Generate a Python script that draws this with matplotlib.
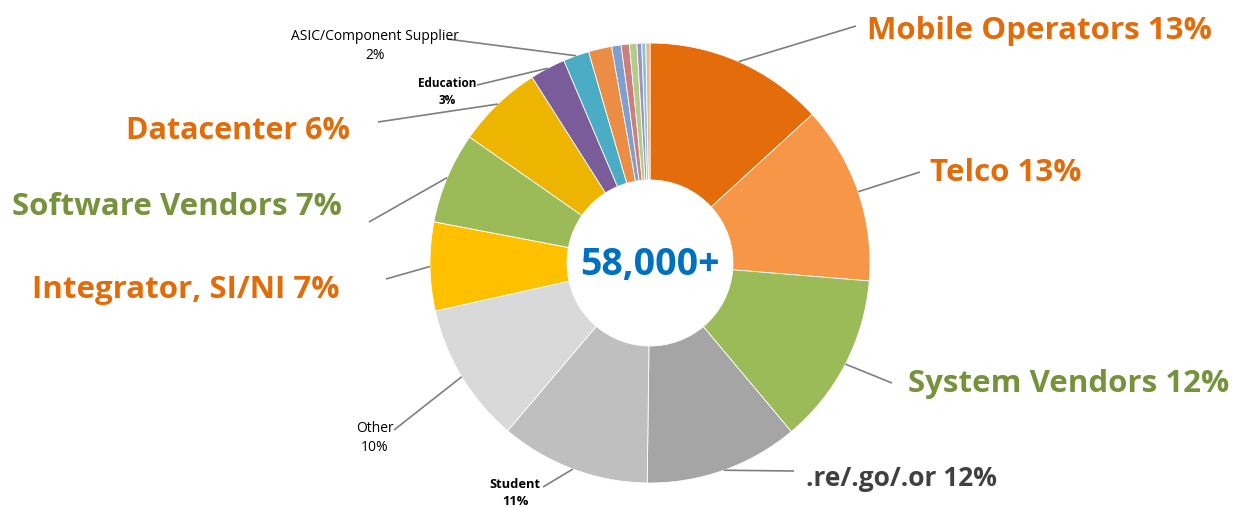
import matplotlib
matplotlib.use('Agg')
import matplotlib.pyplot as plt
import numpy as np

# canvas size in pixels
W, H = 1235, 507

# slice data, clockwise from 12 o'clock
segments = ['Mobile Operators', 'Telco', 'System Vendors', '.re/.go/.or',
            'Student', 'Other', 'Integrator, SI/NI', 'Software Vendors',
            'Datacenter', 'Education', 'ASIC/Component Supplier',
            'misc1', 'misc2', 'misc3', 'misc4', 'misc5', 'misc6', 'misc7']
shares = [13.2, 13.1, 12.6, 11.3, 11.0, 10.3, 6.5, 6.7, 6.3, 2.6, 1.9,
          1.7, 0.7, 0.6, 0.55, 0.35, 0.3, 0.3]
colors = ['#E46C0A', '#F79646', '#9BBB59', '#A5A5A5', '#BFBFBF', '#D9D9D9',
          '#FFC000', '#9BBB59', '#EDB500', '#7A5C9A', '#4BACC6',
          '#EB8D45', '#7F9FCF', '#CD7F7E', '#B3CC88', '#A092C0', '#7FC8DC', '#F9B080']
label_text = ['Mobile Operators 13%', 'Telco 13%', 'System Vendors 12%', '.re/.go/.or 12%',
              'Student\n11%', 'Other\n10%', 'Integrator, SI/NI 7%', 'Software Vendors 7%',
              'Datacenter 6%', 'Education\n3%', 'ASIC/Component Supplier\n2%']
total_label = '58,000+'

ORANGE = '#E26B0A'
GREEN = '#76923C'
DARK = '#404040'

# label layout: (x, y in px from top, ha, color, size, weight, leader end)
layout = [
    (867, 31, 'left', ORANGE, 22.5, 'bold', (856, 26)),
    (930, 173, 'left', ORANGE, 22.5, 'bold', (920, 172)),
    (908, 384, 'left', GREEN, 22.5, 'bold', (892, 383)),
    (806, 479, 'left', DARK, 19, 'bold', (794, 471)),
    (515, 493, 'center', 'black', 9.3, 'bold', (543, 487)),
    (375, 438, 'center', 'black', 10, 'normal', (394, 430)),
    (340, 290, 'right', ORANGE, 22.5, 'bold', (386, 279)),
    (342, 207, 'right', GREEN, 22.5, 'bold', (369, 222)),
    (350, 131, 'right', ORANGE, 22, 'bold', (378, 122)),
    (447, 92, 'center', 'black', 8.5, 'bold', (477, 85)),
    (375, 46, 'center', 'black', 10, 'normal', (447, 39)),
]

plt.rcParams['font.family'] = ['Open Sans', 'DejaVu Sans']

fig = plt.figure(figsize=(W / 100, H / 100), dpi=100)
ax = fig.add_axes([0, 0, 1, 1])

cx, cy, R, r_in = 650, H - 263, 220, 83
wedges, _ = ax.pie(shares, colors=colors, startangle=90, counterclock=False,
                   center=(cx, cy), radius=R, frame=True,
                   wedgeprops=dict(width=R - r_in, edgecolor='white', linewidth=0.6))
ax.set_xlim(0, W)
ax.set_ylim(0, H)
ax.set_aspect('equal')
ax.axis('off')

for w, txt, (x, y, ha, col, fs, fw, end) in zip(wedges, label_text, layout):
    mid = np.deg2rad((w.theta1 + w.theta2) / 2)
    sx, sy = cx + R * np.cos(mid), cy + R * np.sin(mid)
    ax.plot([sx, end[0]], [sy, H - end[1]], color='#7F7F7F', lw=1.2,
            solid_capstyle='butt', zorder=3)
    ax.text(x, H - y, txt, ha=ha, va='center', color=col, fontsize=fs,
            fontweight=fw, linespacing=1.45, multialignment='center')

ax.text(cx, cy - 2, total_label, ha='center', va='center', color='#0070C0',
        fontsize=27, fontweight='bold')

fig.savefig('out.png', dpi=100)
